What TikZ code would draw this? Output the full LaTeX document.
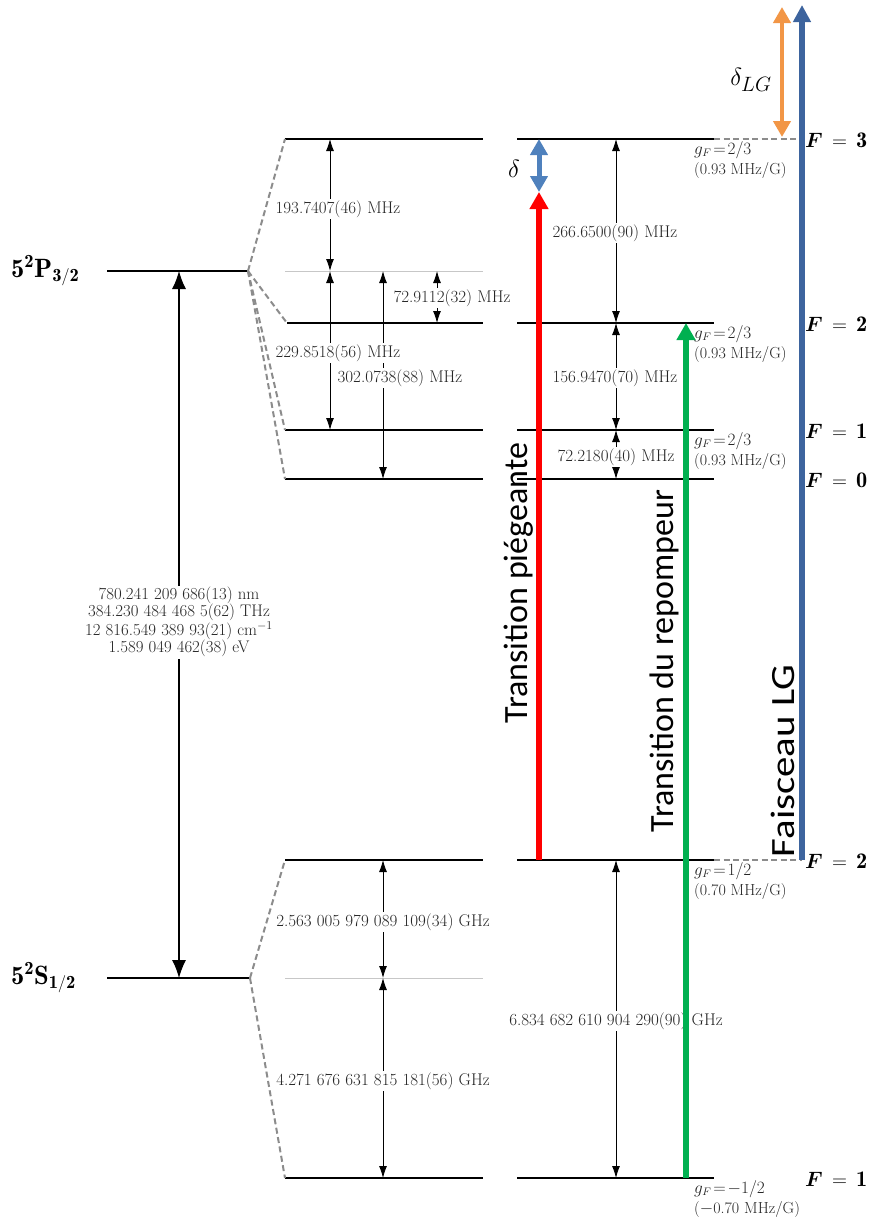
\documentclass[tikz,border=0pt]{standalone}
\usepackage{amsmath}
\usepackage{fontspec}
\newfontfamily\calib{Carlito}
\newfontfamily\calibw[FakeStretch=1.2]{Carlito}
\usetikzlibrary{arrows.meta}
\definecolor{trapred}{RGB}{255,0,0}
\definecolor{repgreen}{RGB}{0,176,80}
\definecolor{detblue}{RGB}{79,129,189}
\definecolor{lgblue}{RGB}{61,100,158}
\definecolor{lgorange}{RGB}{242,150,70}
\newcommand\gfl[4]{%
  \node[gf] (#1a) at (694,{#2+15}) {$g_F\!=\!#3$};
  \node[gf] (#1b) at (694,{#2+35}) {(#4~MHz/G)};}
\newcommand\flabel[3]{%
  \node[flab] (#1) at (805,{#2+8}) {$\boldsymbol{F}\,=\,\mathbf{#3}$};}
\begin{document}
\begin{tikzpicture}[x=1pt,y=-1pt,
  lvl/.style={line width=1.3pt},
  reflvl/.style={line width=0.9pt,black!22},
  dsh/.style={line width=2pt,black!45,dash pattern=on 6pt off 3.5pt},
  dim/.style={line width=0.9pt,{Latex[length=12pt,width=8pt]}-{Latex[length=12pt,width=8pt]}},
  bigdim/.style={line width=1.2pt,{Latex[length=18pt,width=14pt]}-{Latex[length=18pt,width=14pt]}},
  lab/.style={fill=white,inner sep=1.5pt,text=black!85,font=\fontsize{17}{19}\selectfont},
  gf/.style={anchor=base west,inner sep=0pt,text=black!85,font=\fontsize{16}{18}\selectfont},
  flab/.style={anchor=base west,inner sep=0pt,font=\fontsize{22.3}{26}\selectfont},
  term/.style={anchor=base west,inner sep=0pt,font=\fontsize{26.5}{30}\selectfont},
  vtext/.style={anchor=base,rotate=90,inner sep=0pt,font=\calib\fontsize{34}{40}\selectfont},
  beam/.style={line width=6pt,-{Triangle[length=17pt,width=18pt]}},
  dbeam/.style={line width=5pt,{Triangle[length=16pt,width=17pt]}-{Triangle[length=16pt,width=17pt]}},
]
\useasboundingbox (0,0) rectangle (877,1221);

% fine structure levels
\coordinate (P0) at (107,271); \coordinate (P1) at (248,271);
\coordinate (S0) at (107,978); \coordinate (S1) at (250,978);
\draw[lvl] (P0) -- (P1);
\draw[lvl] (S0) -- (S1);
\node[term] (Pterm) at (11,277) {$\mathbf{5^2P_{3/2}}$};
\node[term] (Sterm) at (11,984) {$\mathbf{5^2S_{1/2}}$};

% hyperfine levels
\foreach \n/\y/\xl in {e3/139/285, e2/323/287, e1/430/285, e0/479/285, g2/860/285, g1/1178/285} {
  \coordinate (m\n l) at (\xl,\y); \coordinate (m\n r) at (483,\y);
  \coordinate (r\n l) at (517,\y); \coordinate (r\n r) at (714,\y);
  \draw[lvl] (m\n l) -- (m\n r);
  \draw[lvl] (r\n l) -- (r\n r);
}
\coordinate (mPl) at (285,271); \coordinate (mPr) at (483,271);
\coordinate (mSl) at (285,978); \coordinate (mSr) at (483,978);
\draw[reflvl] (mPl) -- (mPr);
\draw[reflvl] (mSl) -- (mSr);

% dashed connectors
\foreach \n in {e3,e2,e1,e0} \draw[dsh] (P1) -- (m\n l);
\draw[dsh] (S1) -- (mg2l);
\draw[dsh] (S1) -- (mg1l);
\coordinate (B3) at (802,139); \coordinate (B2) at (802,860);
\draw[dsh] (re3r) -- (B3);
\draw[dsh] (rg2r) -- (B2);

% dimension arrows
\coordinate (fsT) at (179,271); \coordinate (fsB) at (179,978);
\draw[bigdim] (fsT) -- (fsB);
\coordinate (d1t) at (330,139); \coordinate (d1b) at (330,271);
\coordinate (d2t) at (330,271); \coordinate (d2b) at (330,430);
\coordinate (d3t) at (383,271); \coordinate (d3b) at (383,479);
\coordinate (d4t) at (437,271); \coordinate (d4b) at (437,323);
\coordinate (d5t) at (616,139); \coordinate (d5b) at (616,323);
\coordinate (d6t) at (616,323); \coordinate (d6b) at (616,430);
\coordinate (d7t) at (616,430); \coordinate (d7b) at (616,479);
\coordinate (d8t) at (383,860); \coordinate (d8b) at (383,978);
\coordinate (d9t) at (383,978); \coordinate (d9b) at (383,1178);
\coordinate (d10t) at (616,860); \coordinate (d10b) at (616,1178);
\foreach \i in {1,...,10} \draw[dim] (d\i t) -- (d\i b);

% labels
\node[lab,align=center,font=\fontsize{16.8}{17}\selectfont] (fsL) at (179,622)
  {780.241 209 686(13) nm\\384.230 484 468 5(62) THz\\12 816.549 389 93(21) cm$^{-1}$\\1.589 049 462(38) eV};
\node[lab] (l1) at (338,209) {193.7407(46) MHz};
\node[lab] (l2) at (338,353) {229.8518(56) MHz};
\node[lab] (l3) at (400,378) {302.0738(88) MHz};
\node[lab] (l4) at (452,298) {72.9112(32) MHz};
\node[lab] (l5) at (615,233) {266.6500(90) MHz};
\node[lab] (l6) at (615,378) {156.9470(70) MHz};
\node[lab] (l7) at (616,457) {72.2180(40) MHz};
\node[lab] (l8) at (383,922) {2.563 005 979 089 109(34) GHz};
\node[lab] (l9) at (383,1081) {4.271 676 631 815 181(56) GHz};
\node[lab] (l10) at (616,1021) {6.834 682 610 904 290(90) GHz};

% g-factors
\gfl{gE3}{139}{2/3}{0.93}
\gfl{gE2}{323}{2/3}{0.93}
\gfl{gE1}{430}{2/3}{0.93}
\gfl{gG2}{860}{1/2}{0.70}
\gfl{gG1}{1178}{-1/2}{$-$0.70}

% rotated texts
\node[vtext] (tTrap) at (527,583) {Transition piégeante};
\node[vtext] (tRep) at (673,661) {Transition du repompeur};
\node[vtext,font=\calibw\fontsize{34}{40}\selectfont] (tLG) at (794,761) {Faisceau LG};

% laser arrows
\coordinate (redB) at (539,860); \coordinate (redT) at (539,192);
\draw[beam,trapred] (redB) -- (redT);
\coordinate (detT) at (539,139);
\draw[dbeam,detblue] (detT) -- (redT);
\node[font=\fontsize{32}{36}\selectfont] (delta) at (514,169) {$\delta$};
\coordinate (grB) at (686,1178); \coordinate (grT) at (686,323);
\draw[beam,repgreen] (grB) -- (grT);
\coordinate (lgT) at (802,5);
\draw[line width=5.5pt,lgblue,-{Triangle[length=17pt,width=17pt]}] (B2) -- (lgT);
\coordinate (orT) at (782,7); \coordinate (orB) at (782,137);
\draw[dbeam,lgorange,line width=4.5pt] (orB) -- (orT);
\node[font=\fontsize{29}{32}\selectfont] (deltaLG) at (751,80) {$\delta_{LG}$};

% F labels
\flabel{F3}{139}{3}
\flabel{F2e}{323}{2}
\flabel{F1e}{430}{1}
\flabel{F0e}{479}{0}
\flabel{F2g}{860}{2}
\flabel{F1g}{1178}{1}
\end{tikzpicture}
\end{document}
